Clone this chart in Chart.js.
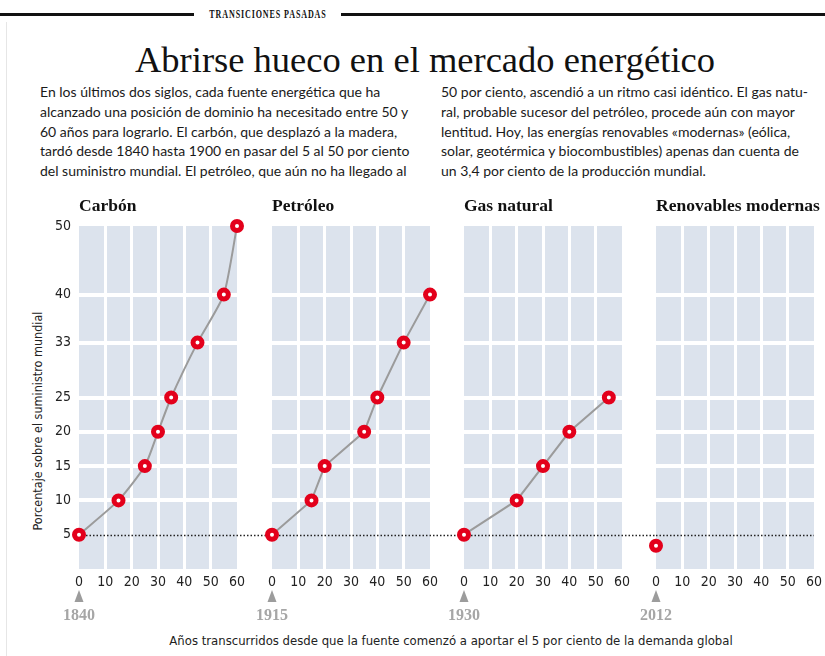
<!DOCTYPE html>
<html lang="es">
<head>
<meta charset="utf-8">
<script src="https://cdn.jsdelivr.net/npm/chart.js@4.4.1/dist/chart.umd.min.js"></script>
<style>
  body { margin: 0; background: #fff; width: 825px; height: 656px; overflow: hidden; position: relative; }
  .frame { position: absolute; left: 6px; top: 22px; bottom: 0; border-left: 1px solid #e6e6e6; }
  .rule { position: absolute; top: 13px; height: 3px; background: #111; }
  .kicker { position: absolute; top: 6px; left: 267.5px; white-space: nowrap;
            transform: translateX(-50%) scaleX(0.62);
            font: bold 13px "Liberation Serif", serif; letter-spacing: 1.4px; color: #111; }
  h1 { position: absolute; top: 38px; left: 0; width: 850px; margin: 0; text-align: center;
       font: 36.5px "Liberation Serif", serif; color: #111; font-weight: normal; }
  .col { position: absolute; top: 82px; font: 14px Lato, sans-serif; line-height: 19.75px;
         color: #1a1a1a; white-space: nowrap; }
  .ytitle { position: absolute; left: 37px; top: 421px; transform: translate(-50%, -50%) rotate(-90deg);
            font: 12.5px "Liberation Sans Narrow", "DejaVu Sans Condensed", sans-serif; color: #222; white-space: nowrap; }
  .xtitle { position: absolute; left: 0; width: 902px; top: 633px; text-align: center;
            font: 13px "Liberation Sans Narrow", "DejaVu Sans Condensed", sans-serif; color: #222; white-space: nowrap; }
  canvas { position: absolute; top: 190px; }
</style>
</head>
<body>
<div class="frame"></div>
<div class="rule" style="left:0;width:194px"></div>
<div class="rule" style="left:341px;width:484px"></div>
<div class="kicker">TRANSICIONES PASADAS</div>
<h1>Abrirse hueco en el mercado energético</h1>
<div class="col" style="left:40px">
En los últimos dos siglos, cada fuente energética que ha<br>
alcanzado una posición de dominio ha necesitado entre 50 y<br>
60 años para lograrlo. El carbón, que desplazó a la madera,<br>
tardó desde 1840 hasta 1900 en pasar del 5 al 50 por ciento<br>
del suministro mundial. El petróleo, que aún no ha llegado al
</div>
<div class="col" style="left:441px">
50 por ciento, ascendió a un ritmo casi idéntico. El gas natu-<br>
ral, probable sucesor del petróleo, procede aún con mayor<br>
lentitud. Hoy, las energías renovables «modernas» (eólica,<br>
solar, geotérmica y biocombustibles) apenas dan cuenta de<br>
un 3,4 por ciento de la producción mundial.
</div>
<div class="ytitle">Porcentaje sobre el suministro mundial</div>
<div class="xtitle">Años transcurridos desde que la fuente comenzó a aportar el 5 por ciento de la demanda global</div>

<canvas id="c0" width="258" height="460"></canvas>
<canvas id="c1" width="258" height="460"></canvas>
<canvas id="c2" width="258" height="460"></canvas>
<canvas id="c3" width="258" height="460"></canvas>

<script>
// data
const panelTitles = ['Carbón', 'Petróleo', 'Gas natural', 'Renovables modernas'];
const startYears = ['1840', '1915', '1930', '2012'];

const yearsCoal = [0, 15, 25, 30, 35, 45, 55, 60];
const shareCoal = [5, 10, 15, 20, 25, 33, 40, 50];
const yearsOil = [0, 15, 20, 35, 40, 50, 60];
const shareOil = [5, 10, 15, 20, 25, 33, 40];
const yearsGas = [0, 20, 30, 40, 55];
const shareGas = [5, 10, 15, 20, 25];
const yearsRenew = [0];
const shareRenew = [3.4];

const yTickValues = [5, 10, 15, 20, 25, 33, 40, 50];
const yGridValues = [10, 15, 20, 25, 33, 40];
const thresholdShare = 5;

const panelLefts = [79, 272, 464, 656];
const AXIS_W = 60, AREA_W = 158;

const panelDecor = {
  id: 'panelDecor',
  beforeDraw(chart) {
    const { ctx, chartArea: a } = chart;
    ctx.save();
    ctx.fillStyle = '#dce3ed';
    ctx.fillRect(a.left, a.top, a.width, a.height);
    ctx.restore();
  },
  beforeDatasetsDraw(chart, args, opts) {
    const { ctx, scales } = chart;
    const y = Math.round(scales.y.getPixelForValue(thresholdShare)) + 0.5;
    ctx.save();
    ctx.strokeStyle = '#222';
    ctx.lineWidth = 1.5;
    ctx.setLineDash([1.5, 2]);
    ctx.beginPath();
    ctx.moveTo(scales.x.getPixelForValue(0), y);
    ctx.lineTo(chart.chartArea.right + opts.extend, y);
    ctx.stroke();
    ctx.restore();
  },
  afterDraw(chart, args, opts) {
    const { ctx, chartArea: a, scales } = chart;
    ctx.save();
    ctx.fillStyle = '#111';
    ctx.font = 'bold 17.5px "Liberation Serif", serif';
    ctx.textBaseline = 'alphabetic';
    ctx.textAlign = 'left';
    ctx.fillText(opts.title, a.left, a.top - 15);

    const x0 = scales.x.getPixelForValue(0);
    const ty = a.bottom + 21;
    ctx.fillStyle = '#9c9c9c';
    ctx.beginPath();
    ctx.moveTo(x0, ty);
    ctx.lineTo(x0 + 4.5, ty + 12);
    ctx.lineTo(x0 - 4.5, ty + 12);
    ctx.closePath();
    ctx.fill();

    ctx.fillStyle = '#a6a6a6';
    ctx.font = 'bold 16px "Liberation Serif", serif';
    ctx.textAlign = 'center';
    ctx.fillText(opts.year, x0, a.bottom + 51);
    ctx.restore();
  }
};

function makePanel(i, xs, ys, tension) {
  const canvas = document.getElementById('c' + i);
  canvas.style.left = (panelLefts[i] - AXIS_W) + 'px';
  const points = xs.map((x, k) => ({ x: x, y: ys[k] }));
  const tickFont = { family: '"Liberation Sans Narrow", "DejaVu Sans Condensed", sans-serif', size: 14 };
  new Chart(canvas.getContext('2d'), {
    type: 'line',
    data: {
      datasets: [{
        data: points,
        clip: false,
        borderColor: '#9b9b9b',
        borderWidth: 2,
        tension: tension,
        pointRadius: 4.5,
        pointBorderWidth: 5,
        pointBorderColor: '#e3001b',
        pointBackgroundColor: '#ffffff'
      }]
    },
    options: {
      responsive: false,
      animation: false,
      layout: { padding: { top: 36, right: 40, bottom: 51, left: 0 } },
      plugins: {
        legend: { display: false },
        tooltip: { enabled: false },
        panelDecor: {
          title: panelTitles[i],
          year: startYears[i],
          extend: i < 3 ? panelLefts[i + 1] - panelLefts[i] - AREA_W : 0
        }
      },
      scales: {
        x: {
          type: 'linear',
          min: 0,
          max: 60,
          afterFit(axis) { axis.height = 30; },
          ticks: { stepSize: 10, padding: 5, color: '#222', font: tickFont, maxRotation: 0 },
          grid: {
            drawTicks: false,
            lineWidth: 3,
            color: c => (c.tick && c.tick.value > 0 && c.tick.value < 60) ? '#ffffff' : 'rgba(0,0,0,0)'
          },
          border: { display: false }
        },
        y: {
          type: 'linear',
          min: 0,
          max: 50,
          afterFit(axis) { axis.width = AXIS_W; },
          afterBuildTicks(axis) { axis.ticks = yTickValues.map(v => ({ value: v })); },
          ticks: { display: i === 0, padding: 8, color: '#222', font: tickFont },
          grid: {
            drawTicks: false,
            lineWidth: 4,
            color: c => (c.tick && yGridValues.includes(c.tick.value)) ? '#ffffff' : 'rgba(0,0,0,0)'
          },
          border: { display: false }
        }
      }
    },
    plugins: [panelDecor]
  });
}

makePanel(0, yearsCoal, shareCoal, 0.2);
makePanel(1, yearsOil, shareOil, 0);
makePanel(2, yearsGas, shareGas, 0);
makePanel(3, yearsRenew, shareRenew, 0);
</script>
</body>
</html>
